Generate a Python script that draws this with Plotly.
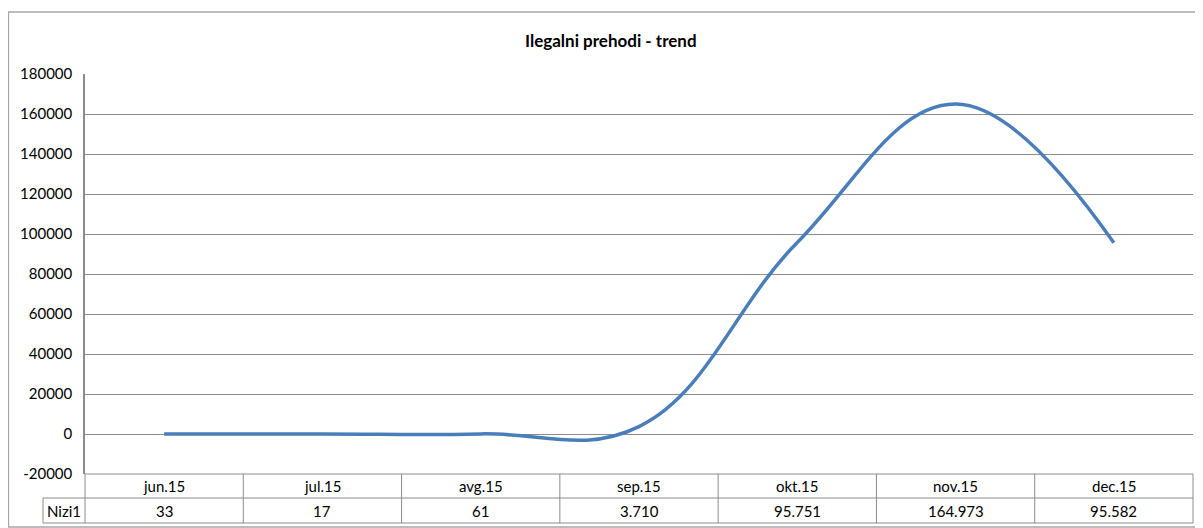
import plotly.graph_objects as go

categories = ["jun.15", "jul.15", "avg.15", "sep.15", "okt.15", "nov.15", "dec.15"]
values = [33, 17, 61, 3710, 95751, 164973, 95582]
series_name = "Nizi1"
title = "Ilegalni prehodi - trend"
y_ticks = [-20000, 0, 20000, 40000, 60000, 80000, 100000, 120000, 140000, 160000, 180000]

OFF = 8  # page body margin
W, H = 1203 - OFF, 528 - OFF
L, R, T, B = 85 - OFF, 10, 74 - OFF, 54
pw, ph = W - L - R, H - T - B

def px(x):
    return (x - OFF - L) / pw

def py(y):
    return (H - B - (y - OFF)) / ph

FONT = "Lato"
GRID = "#8c8c8c"
n = len(categories)

fig = go.Figure()
fig.add_trace(go.Scatter(
    x=list(range(n)), y=values, mode="lines",
    line=dict(color="#4a7ebb", width=3.5, shape="spline", smoothing=1.15),
    name=series_name, hoverinfo="x+y",
))

shapes = []
# outer chart border
shapes.append(dict(type="rect", xref="paper", yref="paper",
                   x0=px(8.5), x1=px(1201), y0=py(527), y1=py(12),
                   line=dict(color="#a6a6a6", width=1.3)))
# data table
row1_top, row1_bot, row2_bot = 474, 498, 523
for yy in (row1_top, row1_bot, row2_bot):
    shapes.append(dict(type="line", xref="paper", yref="paper",
                       x0=0, x1=1, y0=py(yy), y1=py(yy),
                       line=dict(color=GRID, width=1)))
for i in range(n + 1):
    shapes.append(dict(type="line", xref="paper", yref="paper",
                       x0=i / n, x1=i / n, y0=py(row1_top), y1=py(row2_bot),
                       line=dict(color=GRID, width=1)))
# series name cell
for yy in (row1_bot, row2_bot):
    shapes.append(dict(type="line", xref="paper", yref="paper",
                       x0=px(43), x1=0, y0=py(yy), y1=py(yy),
                       line=dict(color=GRID, width=1)))
shapes.append(dict(type="line", xref="paper", yref="paper",
                   x0=px(43), x1=px(43), y0=py(row1_bot), y1=py(row2_bot),
                   line=dict(color=GRID, width=1)))

TXT = dict(showarrow=False, xanchor="center", yanchor="middle")
annotations = [dict(text=f"<b>{title}</b>", xref="paper", yref="paper",
                    x=px(611), y=py(41),
                    font=dict(family=FONT, size=17, color="#000000"), **TXT)]
for i, (c, v) in enumerate(zip(categories, values)):
    annotations.append(dict(text=c, xref="x", yref="paper", x=i,
                            y=py((row1_top + row1_bot) / 2),
                            font=dict(family=FONT, size=15, color="#000000"), **TXT))
    annotations.append(dict(text=f"{v:,}".replace(",", "."), xref="x", yref="paper", x=i,
                            y=py((row1_bot + row2_bot) / 2),
                            font=dict(family=FONT, size=15, color="#000000"), **TXT))
annotations.append(dict(text=series_name, xref="paper", yref="paper",
                        x=px(64), y=py((row1_bot + row2_bot) / 2),
                        font=dict(family=FONT, size=15, color="#000000"), **TXT))

fig.update_layout(
    width=W, height=H,
    margin=dict(l=L, r=R, t=T, b=B),
    paper_bgcolor="white", plot_bgcolor="white",
    showlegend=False,
    xaxis=dict(range=[-0.5, n - 0.5], showgrid=False, zeroline=False,
               showticklabels=False, showline=False, fixedrange=True),
    yaxis=dict(range=[y_ticks[0], y_ticks[-1]], tickvals=y_ticks,
               ticktext=[str(t) for t in y_ticks],
               showgrid=True, gridcolor=GRID, gridwidth=1,
               zeroline=False, showline=True, linecolor=GRID, linewidth=1.5,
               ticks="", ticklen=0, ticklabelstandoff=8,
               tickfont=dict(family=FONT, size=15, color="#000000"),
               fixedrange=True),
    shapes=shapes, annotations=annotations,
)

fig.write_html("out.html")
